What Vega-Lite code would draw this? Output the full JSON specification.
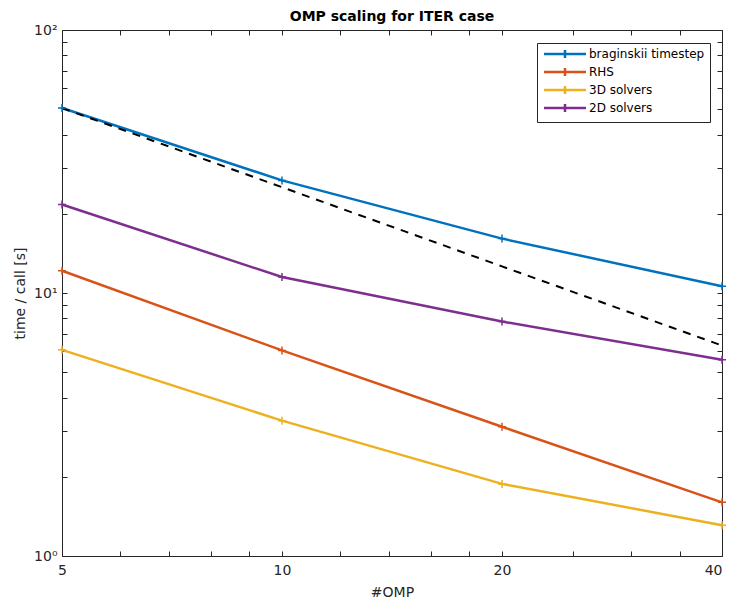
{
  "$schema": "https://vega.github.io/schema/vega-lite/v6.json",
  "autosize": {"type": "none"},
  "width": 660,
  "height": 526,
  "padding": {"left": 62, "top": 30, "right": 10, "bottom": 45},
  "background": "white",
  "config": {
    "font": "DejaVu Sans",
    "view": {"stroke": null},
    "axis": {
      "grid": false,
      "domainColor": "#262626",
      "domainWidth": 1,
      "tickColor": "#262626",
      "tickSize": -5,
      "tickWidth": 1,
      "labelFont": "DejaVu Sans",
      "labelFontSize": 14,
      "labelColor": "#262626",
      "labelOverlap": false,
      "labelFlush": false,
      "labelBound": false,
      "titleFont": "DejaVu Sans",
      "titleFontSize": 14,
      "titleFontWeight": "normal",
      "titleColor": "#262626"
    }
  },
  "title": {
    "text": "OMP scaling for ITER case",
    "fontSize": 14,
    "fontWeight": "bold",
    "font": "DejaVu Sans",
    "color": "#000000",
    "offset": -1,
    "anchor": "middle"
  },
  "datasets": {
    "timing": [
      {"omp": 5, "series": "braginskii timestep", "time": 50.5},
      {"omp": 10, "series": "braginskii timestep", "time": 26.8},
      {"omp": 20, "series": "braginskii timestep", "time": 16.1},
      {"omp": 40, "series": "braginskii timestep", "time": 10.6},
      {"omp": 5, "series": "RHS", "time": 12.15},
      {"omp": 10, "series": "RHS", "time": 6.05},
      {"omp": 20, "series": "RHS", "time": 3.1},
      {"omp": 40, "series": "RHS", "time": 1.6},
      {"omp": 5, "series": "3D solvers", "time": 6.08},
      {"omp": 10, "series": "3D solvers", "time": 3.27},
      {"omp": 20, "series": "3D solvers", "time": 1.88},
      {"omp": 40, "series": "3D solvers", "time": 1.31},
      {"omp": 5, "series": "2D solvers", "time": 21.7},
      {"omp": 10, "series": "2D solvers", "time": 11.5},
      {"omp": 20, "series": "2D solvers", "time": 7.79},
      {"omp": 40, "series": "2D solvers", "time": 5.57}
    ],
    "ideal": [
      {"omp": 5, "time": 50.5},
      {"omp": 10, "time": 25.25},
      {"omp": 20, "time": 12.625},
      {"omp": 40, "time": 6.3125}
    ]
  },
  "resolve": {"axis": {"x": "independent", "y": "independent"}},
  "layer": [
    {
      "data": {"name": "timing"},
      "mark": {"type": "line", "strokeWidth": 2.5},
      "encoding": {
        "x": {
          "field": "omp", "type": "quantitative",
          "scale": {"type": "log", "domain": [5, 40], "nice": false, "zero": false},
          "axis": {
            "orient": "bottom",
            "title": "#OMP",
            "values": [5, 6, 7, 8, 9, 10, 12, 14, 16, 18, 20, 25, 30, 35, 40],
            "labelExpr": "indexof([5,10,20,40], datum.value) >= 0 ? format(datum.value, 'd') : ''",
            "labelAlign": {"condition": {"test": "datum.value == 40", "value": "right"}, "value": "center"},
            "labelPadding": 12,
            "titlePadding": 8
          }
        },
        "y": {
          "field": "time", "type": "quantitative",
          "scale": {"type": "log", "domain": [1, 100], "nice": false, "zero": false},
          "axis": {
            "orient": "left",
            "title": "time / call [s]",
            "values": [1, 2, 3, 4, 5, 6, 7, 8, 9, 10, 20, 30, 40, 50, 60, 70, 80, 90, 100],
            "labelExpr": "datum.value == 1 ? '10⁰' : datum.value == 10 ? '10¹' : datum.value == 100 ? '10²' : ''",
            "labelPadding": 10,
            "titlePadding": 6
          }
        },
        "color": {
          "field": "series", "type": "nominal",
          "scale": {
            "domain": ["braginskii timestep", "RHS", "3D solvers", "2D solvers"],
            "range": ["#0072BD", "#D95319", "#EDB120", "#7E2F8E"]
          },
          "legend": {
            "title": null,
            "orient": "none",
            "legendX": 475,
            "legendY": 13,
            "symbolType": "M-5.25,0H5.25M0,-1V1",
            "symbolSize": 64,
            "symbolStrokeWidth": 2.5,
            "labelFontSize": 12,
            "labelColor": "#000000",
            "labelFont": "DejaVu Sans",
            "strokeColor": "#262626",
            "fillColor": "white",
            "padding": 5,
            "rowPadding": 0,
            "symbolOffset": 17,
            "labelOffset": 18
          }
        },
        "detail": {"field": "series"}
      }
    },
    {
      "data": {"name": "ideal"},
      "mark": {"type": "line", "color": "black", "strokeWidth": 2, "strokeDash": [8, 7]},
      "encoding": {
        "x": {"field": "omp", "type": "quantitative", "axis": null},
        "y": {"field": "time", "type": "quantitative", "axis": null}
      }
    },
    {
      "data": {"name": "timing"},
      "mark": {"type": "point", "shape": "M-1,0H1M0,-1V1", "filled": false, "size": 64, "strokeWidth": 1.5, "opacity": 1},
      "encoding": {
        "x": {
          "field": "omp", "type": "quantitative",
          "axis": {
            "orient": "top",
            "title": null,
            "values": [5, 6, 7, 8, 9, 10, 12, 14, 16, 18, 20, 25, 30, 35, 40],
            "labels": false
          }
        },
        "y": {
          "field": "time", "type": "quantitative",
          "axis": {
            "orient": "right",
            "title": null,
            "values": [1, 2, 3, 4, 5, 6, 7, 8, 9, 10, 20, 30, 40, 50, 60, 70, 80, 90, 100],
            "labels": false
          }
        },
        "color": {"field": "series", "type": "nominal"}
      }
    }
  ]
}
